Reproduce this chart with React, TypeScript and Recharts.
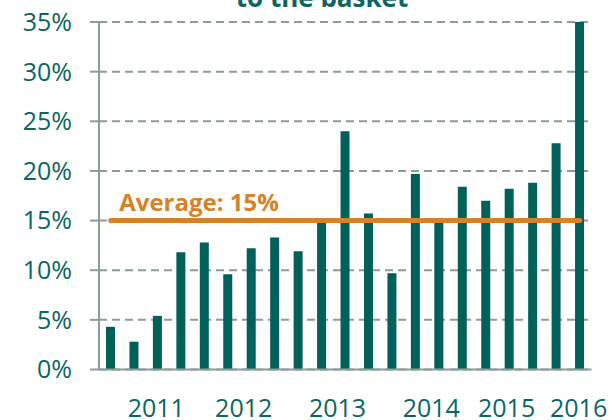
import React from 'react';
import { ComposedChart, Bar, XAxis, YAxis, CartesianGrid, ReferenceLine, Customized } from 'recharts';

// ---- data ----
const quarters = [
  '2011 Q1', '2011 Q2', '2011 Q3', '2011 Q4',
  '2012 Q1', '2012 Q2', '2012 Q3', '2012 Q4',
  '2013 Q1', '2013 Q2', '2013 Q3', '2013 Q4',
  '2014 Q1', '2014 Q2', '2014 Q3', '2014 Q4',
  '2015 Q1', '2015 Q2', '2015 Q3', '2015 Q4',
  '2016 Q1',
];
const shares = [
  4.3, 2.8, 5.4, 11.8,
  12.8, 9.6, 12.2, 13.3,
  11.9, 15.1, 24.0, 15.7,
  9.7, 19.7, 15.0, 18.4,
  17.0, 18.2, 18.8, 22.8,
  35.0,
];
const yearLabels = ['2011', '2012', '2013', '2014', '2015', '2016'];
const yTicks = [0, 5, 10, 15, 20, 25, 30, 35];
const average = 15;
const averageLabel = 'Average: 15%';
const titleText = 'to the basket';

// ---- styles ----
const TEAL = '#00615a';
const TEXT_TEAL = '#0b6661';
const ORANGE = '#d68227';
const GRAY = '#8c9c9a';
const FONT = '"Open Sans", sans-serif';

const table = quarters.map((q, i) => ({ quarter: q, pos: i + 0.5, share: shares[i] }));
const yearBoundaryTicks = quarters.map((_, i) => i).filter((i) => i % 4 === 0);
// label anchor positions along the quarter axis (as placed in the original)
const yearLabelPos = [2.44, 6.17, 10.17, 14.17, 17.38, 20.45];

const Title = () => (
  <text x={322} y={7} textAnchor="middle" fill={TEXT_TEAL} fontFamily={FONT} fontWeight={700} fontSize={26}>
    {titleText}
  </text>
);

export default function App() {
  const first = table[0].pos;
  const last = table[table.length - 1].pos;
  return (
    <div style={{ position: 'absolute', left: 0, top: 0, width: 612, height: 420, background: '#fff' }}>
      <ComposedChart width={612} height={420} data={table} margin={{ top: 22, right: 20.5, bottom: 0, left: 0 }}>
        <CartesianGrid
          xAxisId="main"
          vertical={false}
          stroke={GRAY}
          strokeWidth={2}
          strokeDasharray="8 5"
        />
        <XAxis
          xAxisId="main"
          type="number"
          dataKey="pos"
          domain={[0, quarters.length]}
          ticks={yearBoundaryTicks}
          tick={false}
          tickSize={9}
          height={9}
          axisLine={{ stroke: GRAY, strokeWidth: 2 }}
          tickLine={{ stroke: GRAY, strokeWidth: 2 }}
          allowDecimals
        />
        <XAxis
          xAxisId="years"
          type="number"
          dataKey="pos"
          domain={[0, quarters.length]}
          ticks={yearLabelPos}
          tickFormatter={(_v: number, i: number) => yearLabels[i]}
          axisLine={false}
          tickLine={false}
          tickSize={0}
          tickMargin={20.75}
          height={41.5}
          interval={0}
          allowDecimals
          tick={{ fill: TEXT_TEAL, fontFamily: FONT, fontSize: 25 }}
        />
        <YAxis
          width={99}
          domain={[0, 35]}
          ticks={yTicks}
          interval={0}
          tickFormatter={(v: number) => `${v}%`}
          tick={{ fill: TEXT_TEAL, fontFamily: FONT, fontSize: 25 }}
          tickSize={9}
          tickMargin={18}
          axisLine={{ stroke: GRAY, strokeWidth: 2 }}
          tickLine={{ stroke: GRAY, strokeWidth: 2 }}
        />
        <Bar xAxisId="main" dataKey="share" fill={TEAL} barSize={9} isAnimationActive={false} />
        <ReferenceLine
          xAxisId="main"
          segment={[{ x: first, y: average }, { x: last, y: average }]}
          stroke={ORANGE}
          strokeWidth={5}
          strokeLinecap="round"
          label={(props: any) => {
            const vb = props.viewBox || {};
            return (
              <text
                x={(vb.x ?? 110) + 8.5}
                y={(vb.y ?? 219) - 10}
                fill={ORANGE}
                fontFamily={FONT}
                fontWeight={700}
                fontSize={24}
              >
                {averageLabel}
              </text>
            );
          }}
        />
        <Customized component={Title} />
      </ComposedChart>
    </div>
  );
}
